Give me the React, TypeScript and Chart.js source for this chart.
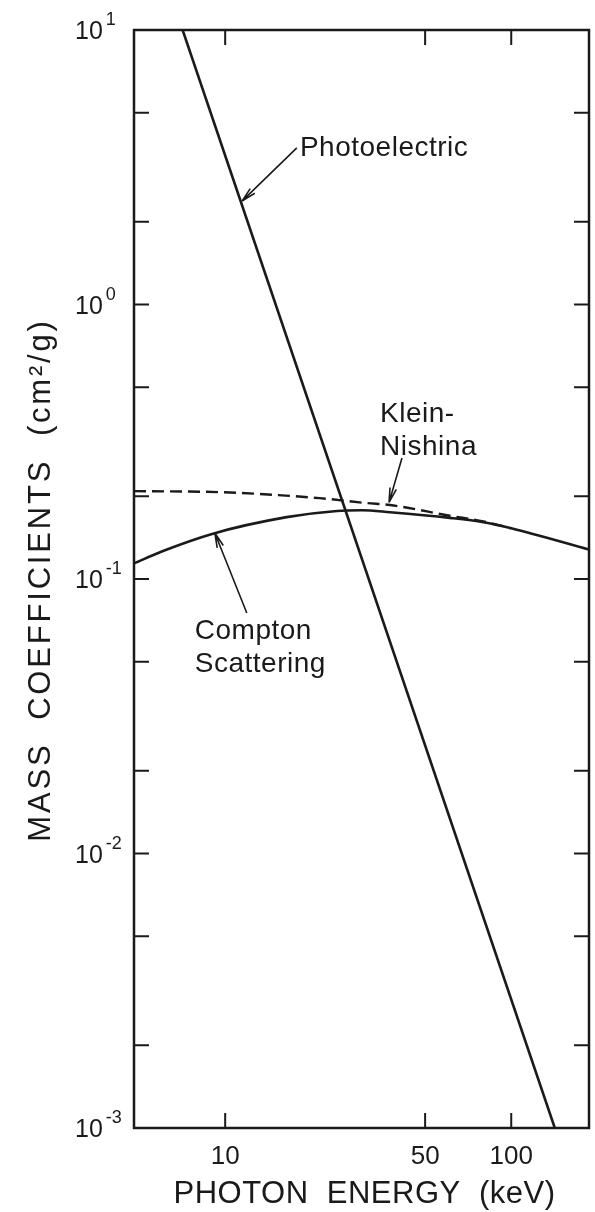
import React, { useEffect, useRef } from "react";
import { Chart, registerables } from "chart.js";

Chart.register(...registerables);

// ---- data ----
const comptonEnergy = [4.8, 6, 9, 16.4, 24.6, 30, 37.7, 61, 80, 100, 187];
const comptonValue = [0.114, 0.126, 0.146, 0.168, 0.177, 0.178, 0.175, 0.167, 0.161, 0.153, 0.128];

const kleinEnergy = [4.8, 9.8, 21.4, 31.3, 37.7, 61, 80, 100];
const kleinValue = [0.209, 0.207, 0.197, 0.189, 0.186, 0.17, 0.162, 0.153];

const photoEnergy = [7.1, 142];
const photoValue = [10, 0.001];

const xTickValues = [10, 50, 100];
const xTickLabels = ["10", "50", "100"];
const yDecadeExponents = [1, 0, -1, -2, -3];
const yDecadeLabels = ["1", "0", "-1", "-2", "-3"];
const yMinorMultipliers = [2, 5];

const xTitle = "PHOTON  ENERGY  (keV)";
const yTitle = "MASS  COEFFICIENTS  (cm\u00B2/g)";

// callouts: text anchor, arrow tail and arrow tip in data coordinates
const callouts = [
  { lines: ["Photoelectric"], textE: 18.25, textV: 3.47, tailE: 17.8, tailV: 3.72, tipE: 11.45, tipV: 2.38 },
  { lines: ["Klein-", "Nishina"], textE: 34.8, textV: 0.373, tailE: 41.5, tailV: 0.276, tipE: 37.4, tipV: 0.19 },
  { lines: ["Compton", "Scattering"], textE: 7.83, textV: 0.0604, tailE: 11.9, tailV: 0.0752, tipE: 9.2, tipV: 0.147 },
];

const INK = "#1a1a1a";
const FONT = '"Liberation Sans", "DejaVu Sans", sans-serif';

const toPoints = (xs: number[], ys: number[]) => xs.map((x, i) => ({ x, y: ys[i] }));

const decorPlugin = {
  id: "decor",
  afterDatasetsDraw(chart: any) {
    const { ctx, chartArea: a, scales } = chart;
    const xs = scales.x;
    const ys = scales.y;
    ctx.save();
    ctx.strokeStyle = INK;
    ctx.fillStyle = INK;

    // frame
    ctx.lineWidth = 2.5;
    ctx.strokeRect(a.left, a.top, a.right - a.left, a.bottom - a.top);

    // inward ticks
    const T = 15;
    ctx.lineWidth = 2;
    ctx.beginPath();
    xTickValues.forEach((v) => {
      const x = xs.getPixelForValue(v);
      ctx.moveTo(x, a.bottom);
      ctx.lineTo(x, a.bottom - T);
      ctx.moveTo(x, a.top);
      ctx.lineTo(x, a.top + T);
    });
    yDecadeExponents.forEach((e) => {
      [1, ...yMinorMultipliers].forEach((m) => {
        const v = m * Math.pow(10, e);
        if (v < ys.min * 0.999 || v > ys.max * 1.001) return;
        const y = ys.getPixelForValue(v);
        if (Math.abs(y - a.top) < 1 || Math.abs(y - a.bottom) < 1) return;
        ctx.moveTo(a.left, y);
        ctx.lineTo(a.left + T, y);
        ctx.moveTo(a.right, y);
        ctx.lineTo(a.right - T, y);
      });
    });
    ctx.stroke();

    // y tick labels with superscripts
    ctx.textAlign = "left";
    ctx.textBaseline = "alphabetic";
    yDecadeExponents.forEach((e, i) => {
      const y = ys.getPixelForValue(Math.pow(10, e));
      ctx.font = `25px ${FONT}`;
      const left = a.left - 59;
      ctx.fillText("10", left, y + 9);
      const w = ctx.measureText("10").width;
      ctx.font = `18px ${FONT}`;
      ctx.fillText(yDecadeLabels[i], left + w + 3, y - 5);
    });

    // axis titles
    ctx.font = `31px ${FONT}`;
    (ctx as any).letterSpacing = "0.5px";
    ctx.textAlign = "center";
    ctx.fillText(xTitle, (a.left + a.right) / 2 + 3, 1203);

    ctx.save();
    (ctx as any).letterSpacing = "2.8px";
    ctx.translate(50, (a.top + a.bottom) / 2 + 1);
    ctx.rotate(-Math.PI / 2);
    ctx.fillText(yTitle, 0, 0);
    ctx.restore();

    // callouts
    ctx.textAlign = "left";
    (ctx as any).letterSpacing = "0.5px";
    ctx.font = `28px ${FONT}`;
    callouts.forEach((c) => {
      const tx = xs.getPixelForValue(c.textE);
      const ty = ys.getPixelForValue(c.textV);
      c.lines.forEach((ln, k) => ctx.fillText(ln, tx, ty + k * 33));
      const x0 = xs.getPixelForValue(c.tailE);
      const y0 = ys.getPixelForValue(c.tailV);
      const x1 = xs.getPixelForValue(c.tipE);
      const y1 = ys.getPixelForValue(c.tipV);
      ctx.lineWidth = 1.6;
      ctx.beginPath();
      ctx.moveTo(x0, y0);
      ctx.lineTo(x1, y1);
      const ang = Math.atan2(y1 - y0, x1 - x0);
      const L = 15;
      const spread = 0.22;
      ctx.moveTo(x1, y1);
      ctx.lineTo(x1 - L * Math.cos(ang - spread), y1 - L * Math.sin(ang - spread));
      ctx.moveTo(x1, y1);
      ctx.lineTo(x1 - L * Math.cos(ang + spread), y1 - L * Math.sin(ang + spread));
      ctx.stroke();
    });

    ctx.restore();
  },
};

export default function App() {
  const canvasRef = useRef<HTMLCanvasElement | null>(null);

  useEffect(() => {
    const canvas = canvasRef.current;
    if (!canvas) return;
    const chart = new Chart(canvas, {
      type: "line",
      data: {
        datasets: [
          {
            label: "Photoelectric",
            data: toPoints(photoEnergy, photoValue),
            borderColor: INK,
            borderWidth: 2.6,
            pointRadius: 0,
            tension: 0,
            fill: false,
          },
          {
            label: "Klein-Nishina",
            data: toPoints(kleinEnergy, kleinValue),
            borderColor: INK,
            borderWidth: 2.4,
            borderDash: [12, 6],
            pointRadius: 0,
            cubicInterpolationMode: "monotone",
            fill: false,
          },
          {
            label: "Compton Scattering",
            data: toPoints(comptonEnergy, comptonValue),
            borderColor: INK,
            borderWidth: 2.6,
            pointRadius: 0,
            cubicInterpolationMode: "monotone",
            fill: false,
          },
        ],
      },
      options: {
        animation: false,
        responsive: false,
        devicePixelRatio: 1,
        layout: { padding: { left: 134, right: 6, top: 30, bottom: 0 } },
        plugins: {
          legend: { display: false },
          tooltip: { enabled: false },
          title: { display: false },
        },
        scales: {
          x: {
            type: "logarithmic",
            min: 4.8,
            max: 187,
            grid: { display: false },
            border: { display: false },
            afterBuildTicks: (s: any) => {
              s.ticks = xTickValues.map((v) => ({ value: v }));
            },
            afterFit: (s: any) => {
              s.height = 84;
            },
            ticks: {
              autoSkip: false,
              maxRotation: 0,
              padding: 5,
              color: INK,
              font: { family: FONT, size: 26 },
              callback: (v: any) => {
                const i = xTickValues.indexOf(Number(v));
                return i >= 0 ? xTickLabels[i] : "";
              },
            },
          },
          y: {
            type: "logarithmic",
            min: 0.001,
            max: 10,
            display: false,
          },
        },
      },
      plugins: [decorPlugin],
    } as any);
    return () => chart.destroy();
  }, []);

  return (
    <div style={{ position: "absolute", left: 0, top: 0, width: 595, height: 1212, background: "#fff" }}>
      <canvas ref={canvasRef} width={595} height={1212} />
    </div>
  );
}
